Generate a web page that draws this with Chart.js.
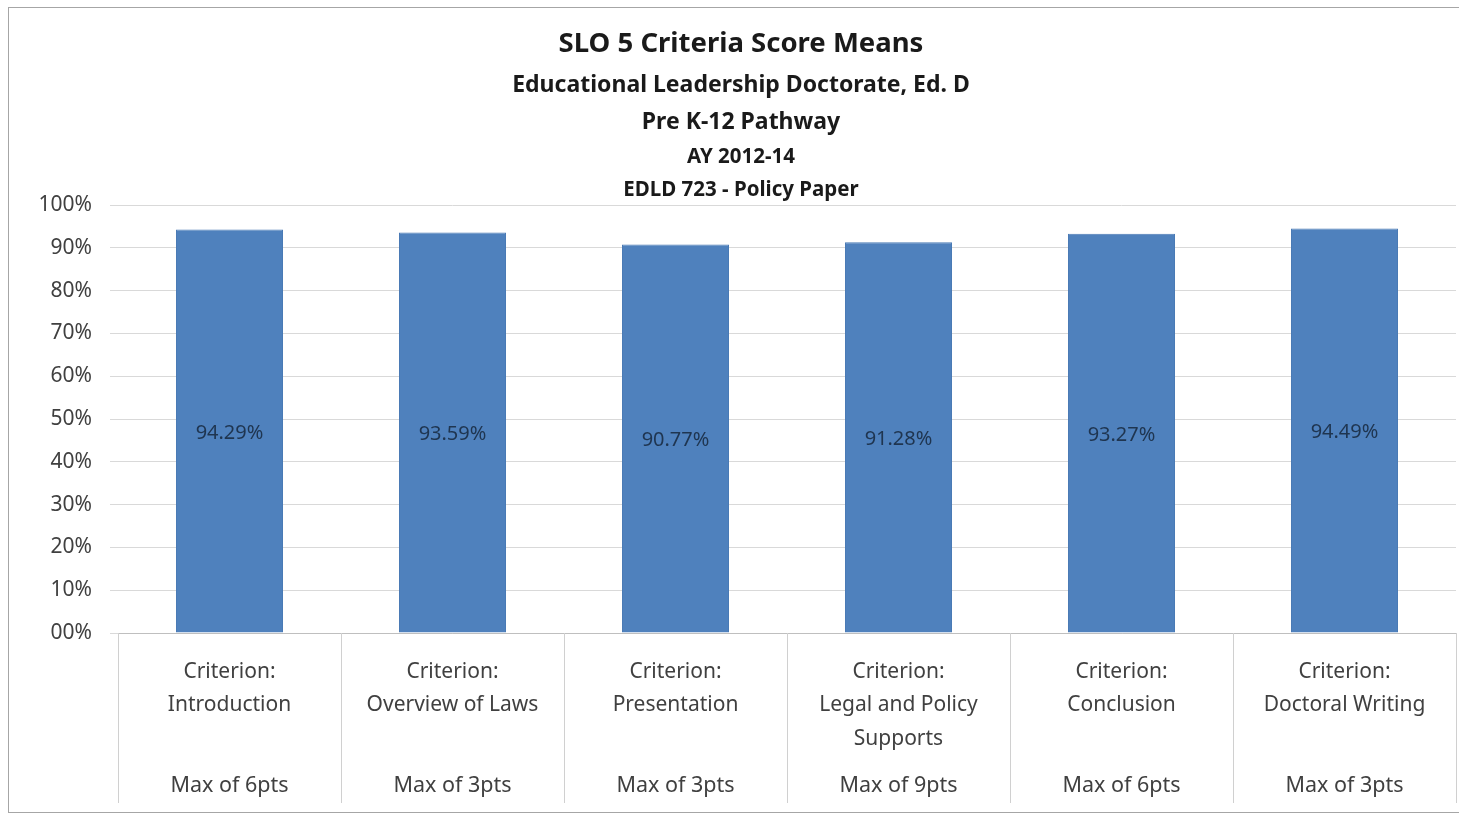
<!DOCTYPE html>
<html>
<head>
<meta charset="utf-8">
<script src="https://cdn.jsdelivr.net/npm/chart.js@4.4.1/dist/chart.umd.min.js"></script>
<style>
  html, body { margin: 0; padding: 0; background: #fff; }
  #wrap { width: 1459px; height: 816px; position: relative; }
</style>
</head>
<body>
<div id="wrap"><canvas id="scores"></canvas></div>
<script>
'use strict';

var criteria = [
  ['Criterion:', 'Introduction'],
  ['Criterion:', 'Overview of Laws'],
  ['Criterion:', 'Presentation'],
  ['Criterion:', 'Legal and Policy', 'Supports'],
  ['Criterion:', 'Conclusion'],
  ['Criterion:', 'Doctoral Writing']
];
var maxPoints = ['Max of 6pts', 'Max of 3pts', 'Max of 3pts', 'Max of 9pts', 'Max of 6pts', 'Max of 3pts'];
var scoreMeans = [94.29, 93.59, 90.77, 91.28, 93.27, 94.49];
var headings = [
  'SLO 5 Criteria Score Means',
  'Educational Leadership Doctorate, Ed. D',
  'Pre K-12 Pathway',
  'AY 2012-14',
  'EDLD 723 - Policy Paper'
];

var FONT = '"Noto Sans", "Open Sans", sans-serif';

// title block, frame, separators and the second row of category labels
var decorations = {
  id: 'decorations',
  beforeDraw: function(chart) {
    var ctx = chart.ctx;
    ctx.save();
    ctx.strokeStyle = '#a6a6a6';
    ctx.lineWidth = 1;
    ctx.strokeRect(8.5, 7.5, 1470, 805);
    ctx.fillStyle = '#1a1a1a';
    ctx.textAlign = 'center';
    ctx.textBaseline = 'middle';
    var sizes = [27.5, 23, 23, 20.5, 20.5];
    var ys = [44, 85, 122, 157, 190];
    headings.forEach(function(h, i) {
      ctx.font = 'bold ' + sizes[i] + 'px ' + FONT;
      ctx.fillText(h, 741, ys[i]);
    });
    ctx.restore();
  },
  afterDraw: function(chart) {
    var ctx = chart.ctx;
    var x = chart.scales.x;
    var bottom = chart.chartArea.bottom;
    ctx.save();
    ctx.strokeStyle = '#d0d0d0';
    ctx.lineWidth = 1;
    var step = (x.right - x.left) / criteria.length;
    for (var i = 0; i <= criteria.length; i++) {
      var px = Math.round(x.left + i * step) + 0.5;
      ctx.beginPath();
      ctx.moveTo(px, bottom);
      ctx.lineTo(px, 803);
      ctx.stroke();
    }
    ctx.fillStyle = '#404040';
    ctx.font = '21.5px ' + FONT;
    ctx.textAlign = 'center';
    ctx.textBaseline = 'middle';
    maxPoints.forEach(function(m, i) {
      ctx.fillText(m, x.getPixelForValue(i), 786);
    });
    ctx.restore();
  },
  afterDatasetsDraw: function(chart) {
    var ctx = chart.ctx;
    var meta = chart.getDatasetMeta(0);
    ctx.save();
    ctx.fillStyle = '#1f3550';
    ctx.font = '20px ' + FONT;
    ctx.textAlign = 'center';
    ctx.textBaseline = 'middle';
    meta.data.forEach(function(bar, i) {
      ctx.fillText(scoreMeans[i].toFixed(2) + '%', bar.x, (bar.y + bar.base) / 2 + 2);
    });
    ctx.restore();
  }
};

var config = {
  type: 'bar',
  data: {
    labels: criteria,
    datasets: [{
      label: 'Score mean',
      data: scoreMeans,
      backgroundColor: '#4f81bd',
      borderColor: '#4a7ab5',
      borderWidth: 1,
      categoryPercentage: 1,
      barPercentage: 0.48
    }]
  },
  options: {
    responsive: true,
    maintainAspectRatio: false,
    animation: false,
    layout: { padding: { top: 205, left: 8, right: 3, bottom: 8 } },
    plugins: {
      legend: { display: false },
      title: { display: false },
      tooltip: { enabled: false }
    },
    scales: {
      x: {
        grid: { display: false },
        border: { display: true, color: '#bfbfbf' },
        ticks: {
          color: '#404040',
          font: { family: FONT, size: 21, lineHeight: 1.6 },
          padding: 14,
          maxRotation: 0,
          autoSkip: false
        },
        afterFit: function(scale) { scale.height = 175; }
      },
      y: {
        min: 0,
        max: 100,
        grid: { color: '#d9d9d9', tickLength: 8 },
        border: { display: false },
        ticks: {
          stepSize: 10,
          color: '#404040',
          padding: 18,
          font: { family: FONT, size: 21 },
          callback: function(v) { return String(v).padStart(2, '0') + '%'; }
        },
        afterFit: function(scale) { scale.width = 110; }
      }
    }
  },
  plugins: [decorations]
};

window.chart = new Chart(document.getElementById('scores'), config);
</script>
</body>
</html>
